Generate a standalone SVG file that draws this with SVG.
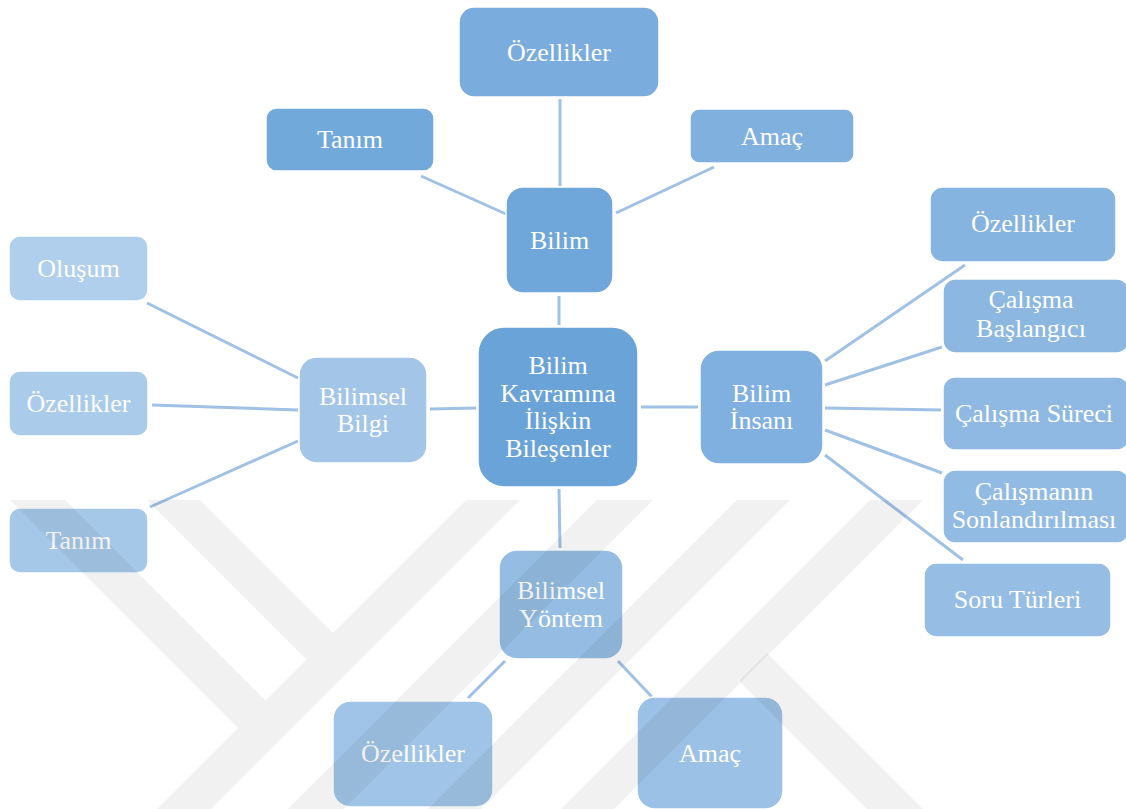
<svg xmlns="http://www.w3.org/2000/svg" width="1126" height="809" viewBox="0 0 1126 809">
  <style>
    .box { stroke: #ffffff; stroke-width: 1.5; }
    .lbl { font-family: "Liberation Serif", "Times New Roman", serif; font-size: 26px; fill: #ffffff; text-anchor: middle; }
    .link { stroke: #a0c1e6; stroke-width: 3; fill: none; }
    .mark { fill: #000000; fill-opacity: 0.055; }
  </style>
  <rect width="1126" height="809" fill="#ffffff"/>

  <!-- connectors -->
  <g id="connectors">
    <line class="link" x1="560" y1="99" x2="560" y2="186"/>
    <line class="link" x1="421" y1="176" x2="506" y2="214"/>
    <line class="link" x1="714" y1="167" x2="616" y2="213"/>
    <line class="link" x1="559" y1="296" x2="559" y2="325"/>
    <line class="link" x1="430" y1="409" x2="476" y2="408"/>
    <line class="link" x1="641" y1="407" x2="698" y2="407"/>
    <line class="link" x1="559" y1="489" x2="560" y2="548"/>
    <line class="link" x1="147" y1="303" x2="298" y2="378"/>
    <line class="link" x1="152" y1="405" x2="298" y2="410"/>
    <line class="link" x1="150" y1="507" x2="298" y2="441"/>
    <line class="link" x1="825" y1="361" x2="965" y2="265"/>
    <line class="link" x1="825" y1="385" x2="942" y2="347"/>
    <line class="link" x1="825" y1="408" x2="941" y2="410"/>
    <line class="link" x1="825" y1="430" x2="942" y2="473"/>
    <line class="link" x1="825" y1="455" x2="963" y2="560"/>
    <line class="link" x1="505" y1="661" x2="468" y2="698"/>
    <line class="link" x1="618" y1="661" x2="652" y2="697"/>
  </g>

  <!-- central node -->
  <g id="node-center">
    <rect class="box" x="478" y="327" width="160" height="160" rx="26" fill="#6aa3d8"/>
    <text class="lbl" x="558" y="374">Bilim</text>
    <text class="lbl" x="558" y="402">Kavramına</text>
    <text class="lbl" x="558" y="429">İlişkin</text>
    <text class="lbl" x="558" y="457">Bileşenler</text>
  </g>

  <!-- Bilim branch -->
  <g id="node-bilim">
    <rect class="box" x="506" y="187" width="107" height="106" rx="17" fill="#6fa7da"/>
    <text class="lbl" x="559.5" y="249">Bilim</text>
  </g>
  <g id="node-bilim-ozellikler">
    <rect class="box" x="459" y="7" width="200" height="90" rx="15" fill="#7aacdd"/>
    <text class="lbl" x="559" y="61">Özellikler</text>
  </g>
  <g id="node-bilim-tanim">
    <rect class="box" x="266" y="108" width="168" height="63" rx="10.5" fill="#72a9db"/>
    <text class="lbl" x="350" y="148">Tanım</text>
  </g>
  <g id="node-bilim-amac">
    <rect class="box" x="690" y="109" width="164" height="54" rx="9" fill="#7fb0de"/>
    <text class="lbl" x="772" y="145">Amaç</text>
  </g>

  <!-- Bilimsel Bilgi branch -->
  <g id="node-bilgi">
    <rect class="box" x="299" y="357" width="128" height="106" rx="17.5" fill="#a3c5e8"/>
    <text class="lbl" x="363" y="405">Bilimsel</text>
    <text class="lbl" x="363" y="432">Bilgi</text>
  </g>
  <g id="node-bilgi-olusum">
    <rect class="box" x="9" y="236" width="139" height="65" rx="10.8" fill="#b0cfec"/>
    <text class="lbl" x="78.5" y="277">Oluşum</text>
  </g>
  <g id="node-bilgi-ozellikler">
    <rect class="box" x="9" y="371" width="139" height="65" rx="10.8" fill="#abcbea"/>
    <text class="lbl" x="78.5" y="412">Özellikler</text>
  </g>
  <g id="node-bilgi-tanim">
    <rect class="box" x="9" y="508" width="139" height="65" rx="10.8" fill="#a6c8e8"/>
    <text class="lbl" x="78.5" y="549">Tanım</text>
  </g>

  <!-- Bilim İnsanı branch -->
  <g id="node-insan">
    <rect class="box" x="700" y="350" width="123" height="114" rx="19" fill="#7fb0df"/>
    <text class="lbl" x="761.5" y="402">Bilim</text>
    <text class="lbl" x="761.5" y="429">İnsanı</text>
  </g>
  <g id="node-insan-ozellikler">
    <rect class="box" x="930" y="187" width="186" height="75" rx="12.5" fill="#86b4e0"/>
    <text class="lbl" x="1023" y="232">Özellikler</text>
  </g>
  <g id="node-insan-baslangic">
    <rect class="box" x="943" y="279" width="186" height="74" rx="12.3" fill="#8bb7e1"/>
    <text class="lbl" x="1031" y="308">Çalışma</text>
    <text class="lbl" x="1031" y="337">Başlangıcı</text>
  </g>
  <g id="node-insan-surec">
    <rect class="box" x="943" y="377" width="186" height="73" rx="12.2" fill="#8fb9e2"/>
    <text class="lbl" x="1034" y="422">Çalışma Süreci</text>
  </g>
  <g id="node-insan-sonlandirma">
    <rect class="box" x="943" y="470" width="186" height="73" rx="12.2" fill="#92bbe3"/>
    <text class="lbl" x="1034" y="500">Çalışmanın</text>
    <text class="lbl" x="1034" y="528">Sonlandırılması</text>
  </g>
  <g id="node-insan-soru">
    <rect class="box" x="924" y="563" width="187" height="74" rx="12.3" fill="#96bde4"/>
    <text class="lbl" x="1017.5" y="608">Soru Türleri</text>
  </g>

  <!-- Bilimsel Yöntem branch -->
  <g id="node-yontem">
    <rect class="box" x="499" y="550" width="124" height="109" rx="18" fill="#95bde3"/>
    <text class="lbl" x="561" y="599">Bilimsel</text>
    <text class="lbl" x="561" y="627">Yöntem</text>
  </g>
  <g id="node-yontem-ozellikler">
    <rect class="box" x="333" y="701" width="160" height="106" rx="17.5" fill="#a0c4e7"/>
    <text class="lbl" x="413" y="762">Özellikler</text>
  </g>
  <g id="node-yontem-amac">
    <rect class="box" x="637" y="697" width="146" height="112" rx="18" fill="#9cc1e6"/>
    <text class="lbl" x="710" y="762">Amaç</text>
  </g>

  <!-- faint diagonal watermark bands over the lower half -->
  <g id="watermark">
    <polygon class="mark" points="10,500 65,500 265.5,700.5 238,728"/>
    <polygon class="mark" points="147,500 200,500 333,633 306.5,659.5"/>
    <polygon class="mark" points="466,500 520,500 211,809 157,809"/>
    <polygon class="mark" points="597,500 653,500 344,809 288,809"/>
    <polygon class="mark" points="737,500 790,500 481,809 428,809"/>
    <polygon class="mark" points="870,500 923,500 614,809 561,809"/>
    <polygon class="mark" points="767,653 923,809 867,809 739,681"/>
  </g>
</svg>
